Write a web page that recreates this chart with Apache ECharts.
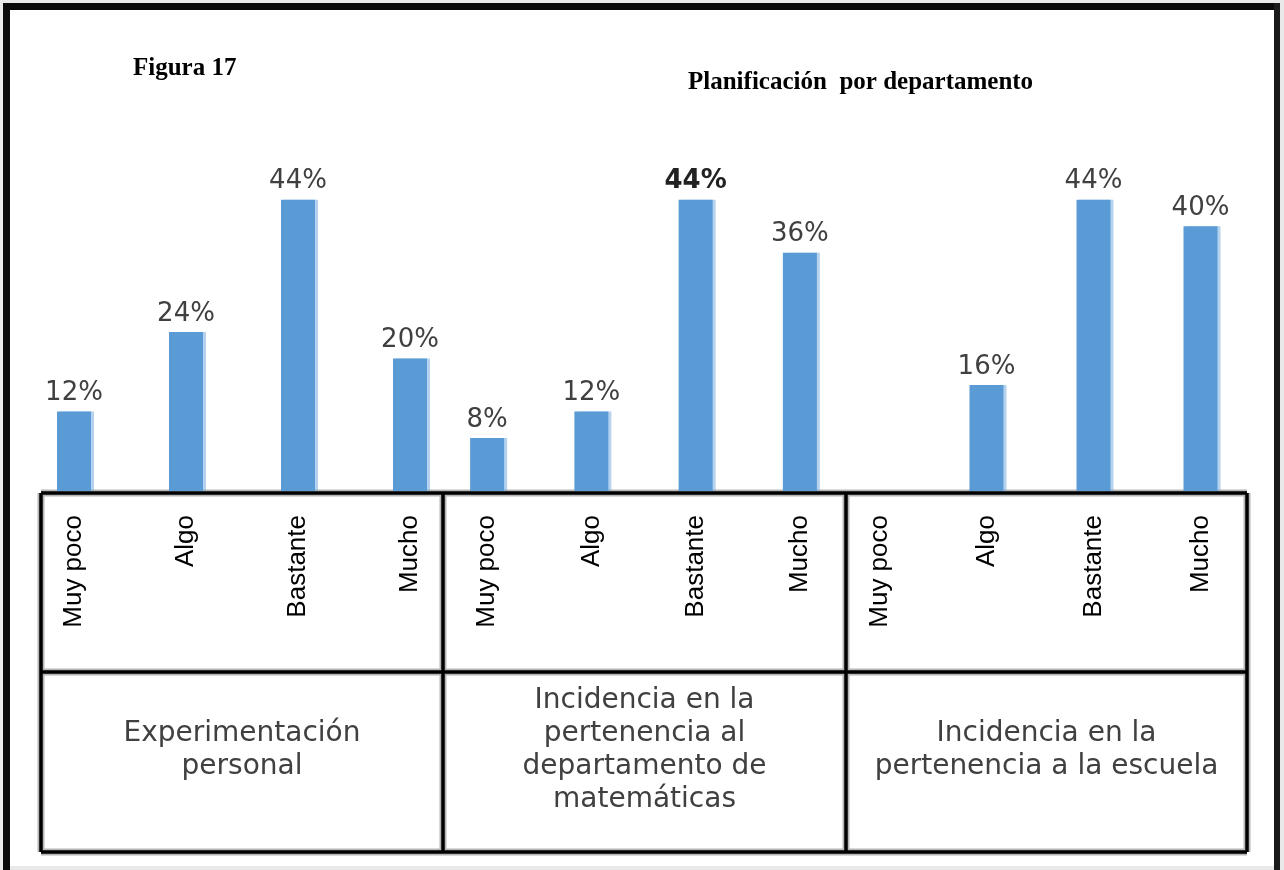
<!DOCTYPE html>
<html>
<head>
<meta charset="utf-8">
<title>Figura 17</title>
<script src="https://cdn.jsdelivr.net/npm/echarts@6/dist/echarts.min.js"></script>
<style>
  html, body { margin: 0; padding: 0; background: #e9e9e9; }
  #main { width: 1284px; height: 870px; }
</style>
</head>
<body>
<div id="main"></div>
<script>
// categorias de cada grupo
var categories = ['Muy poco', 'Algo', 'Bastante', 'Mucho'];
// nombres de los grupos (fila de abajo de la tabla)
var groupNames = [
  'Experimentación\npersonal',
  'Incidencia en la\npertenencia al\ndepartamento de\nmatemáticas',
  'Incidencia en la\npertenencia a la escuela'
];
// porcentajes por grupo
var experimentacion = [12, 24, 44, 20];
var deptMatematicas = [8, 12, 44, 36];
var escuela = [null, 16, 44, 40];
var groupValues = [experimentacion, deptMatematicas, escuela];

var barColor = '#5b9bd5';
var labelFont = 'DejaVu Sans, Verdana, sans-serif';

// un grid por grupo, asi las barras quedan donde en la figura
var grids = [
  { left: 18, width: 448 },
  { left: 435, width: 417 },
  { left: 826, width: 428 }
];

var chart = echarts.init(document.getElementById('main'));

var gridList = [];
var xAxisList = [];
var yAxisList = [];
var seriesList = [];

grids.forEach(function (g, i) {
  gridList.push({ left: g.left, width: g.width, top: 160, bottom: 379 });
  xAxisList.push({
    type: 'category',
    gridIndex: i,
    data: categories,
    axisLine: { show: false },
    axisTick: { show: false },
    axisLabel: {
      rotate: 90,
      margin: 24,
      color: '#000',
      fontSize: 26,
      fontFamily: 'Liberation Sans, Arial, sans-serif',
      interval: 0
    }
  });
  yAxisList.push({ type: 'value', gridIndex: i, min: 0, max: 50, show: false });
  seriesList.push({
    type: 'bar',
    xAxisIndex: i,
    yAxisIndex: i,
    barWidth: 34,
    data: groupValues[i].map(function (v, k) {
      // el 44% del segundo grupo sale en negrita
      if (i == 1 && k == 2) return { value: v, label: { fontWeight: 'bold', color: '#222' } };
      return v;
    }),
    itemStyle: {
      color: barColor,
      shadowColor: 'rgba(120,175,225,0.55)',
      shadowOffsetX: 3,
      shadowBlur: 0
    },
    label: {
      show: true,
      position: 'top',
      distance: 5,
      formatter: '{c}%',
      color: '#404040',
      fontSize: 26,
      fontFamily: labelFont
    },
    silent: true
  });
});

// tabla de abajo
var tTop = 493, tMid = 672, tBottom = 852;
var tCols = [41, 443, 846, 1247];

function tableLines(color, width) {
  var out = [];
  [tTop, tMid, tBottom].forEach(function (y) {
    out.push({ type: 'line', shape: { x1: tCols[0], y1: y, x2: tCols[3], y2: y }, style: { stroke: color, lineWidth: width } });
  });
  tCols.forEach(function (x) {
    out.push({ type: 'line', shape: { x1: x, y1: tTop, x2: x, y2: tBottom }, style: { stroke: color, lineWidth: width } });
  });
  return out;
}

var graphics = [
  // marco
  { type: 'rect', shape: { x: 3, y: 3, width: 1277, height: 863 }, style: { fill: '#fff' }, z: -10 },
  { type: 'rect', shape: { x: 3, y: 3, width: 1277, height: 7 }, style: { fill: '#0a0a0a' }, z: -9 },
  { type: 'rect', shape: { x: 3, y: 3, width: 7, height: 867 }, style: { fill: '#0a0a0a' }, z: -9 },
  { type: 'rect', shape: { x: 1274, y: 3, width: 6, height: 867 }, style: { fill: '#1a1a1a' }, z: -9 }
];
graphics = graphics.concat(tableLines('#b5b5b5', 7), tableLines('#000', 3.5));

groupNames.forEach(function (name, i) {
  graphics.push({
    type: 'text',
    style: {
      text: name,
      x: (tCols[i] + tCols[i + 1]) / 2,
      y: 750,
      align: 'center',
      verticalAlign: 'middle',
      fontSize: 28,
      lineHeight: 33,
      fontFamily: labelFont,
      fill: '#404040'
    }
  });
});

var option = {
  animation: false,
  backgroundColor: '#e9e9e9',
  title: [
    {
      text: 'Figura 17',
      left: 133,
      top: 56,
      padding: 0,
      textStyle: { fontFamily: 'Liberation Serif, Times New Roman, serif', fontWeight: 'bold', fontSize: 25, color: '#000' }
    },
    {
      text: 'Planificación  por departamento',
      left: 688,
      top: 70,
      padding: 0,
      textStyle: { fontFamily: 'Liberation Serif, Times New Roman, serif', fontWeight: 'bold', fontSize: 25, color: '#000' }
    }
  ],
  grid: gridList,
  xAxis: xAxisList,
  yAxis: yAxisList,
  series: seriesList,
  graphic: graphics
};

chart.setOption(option);
</script>
</body>
</html>
